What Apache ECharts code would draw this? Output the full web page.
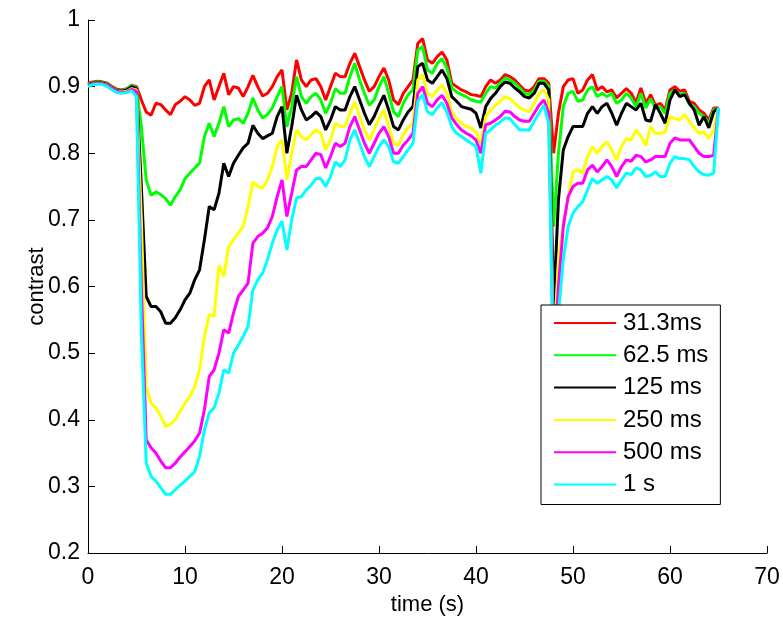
<!DOCTYPE html>
<html>
<head>
<meta charset="utf-8">
<script src="https://cdn.jsdelivr.net/npm/echarts@6/dist/echarts.min.js"></script>
<style>
html,body{margin:0;padding:0;background:#fff;}
#chart{width:783px;height:618px;}
</style>
</head>
<body>
<div id="chart"></div>
<script>
// time grid: 0 to 65 s, 0.5 s steps
var time = [];
for (var i = 0; i <= 130; i++) time.push(i * 0.5);

var seriesNames = ['31.3ms', '62.5 ms', '125 ms', '250 ms', '500 ms', '1 s'];
var seriesColors = ['#ff0000', '#00ff00', '#000000', '#ffff00', '#ff00ff', '#00ffff'];

var red = [
0.905,0.907,0.908,0.907,0.905,0.900,0.896,0.895,0.897,0.902,
0.900,0.880,0.862,0.857,0.875,0.873,0.865,0.858,0.873,0.878,
0.885,0.880,0.872,0.875,0.900,0.910,0.880,0.900,0.920,0.888,
0.900,0.898,0.885,0.900,0.917,0.900,0.886,0.890,0.900,0.915,
0.925,0.865,0.890,0.940,0.910,0.900,0.910,0.912,0.900,0.880,
0.900,0.920,0.915,0.915,0.935,0.950,0.930,0.910,0.893,0.900,
0.915,0.928,0.910,0.880,0.873,0.890,0.900,0.910,0.965,0.972,
0.940,0.935,0.945,0.952,0.940,0.905,0.900,0.895,0.892,0.888,
0.887,0.885,0.900,0.910,0.905,0.910,0.918,0.915,0.910,0.902,
0.895,0.893,0.900,0.912,0.912,0.905,0.800,0.860,0.900,0.910,
0.912,0.890,0.895,0.910,0.918,0.895,0.900,0.892,0.895,0.883,
0.890,0.897,0.890,0.876,0.898,0.875,0.888,0.872,0.875,0.865,
0.895,0.900,0.893,0.895,0.878,0.875,0.865,0.860,0.850,0.868,
0.868];

var green = [
0.904,0.906,0.907,0.906,0.904,0.899,0.895,0.894,0.896,0.902,
0.898,0.840,0.760,0.737,0.742,0.738,0.732,0.722,0.735,0.745,
0.762,0.770,0.778,0.785,0.825,0.845,0.825,0.845,0.870,0.840,
0.850,0.852,0.845,0.860,0.883,0.865,0.853,0.858,0.868,0.885,
0.900,0.840,0.870,0.915,0.885,0.875,0.885,0.890,0.880,0.860,
0.875,0.897,0.890,0.890,0.915,0.935,0.910,0.890,0.872,0.880,
0.900,0.915,0.890,0.862,0.855,0.875,0.888,0.895,0.955,0.960,
0.925,0.920,0.935,0.942,0.928,0.898,0.892,0.888,0.885,0.880,
0.878,0.877,0.890,0.900,0.898,0.905,0.913,0.910,0.905,0.898,
0.890,0.888,0.895,0.908,0.908,0.900,0.690,0.800,0.870,0.890,
0.893,0.878,0.880,0.895,0.900,0.885,0.890,0.885,0.890,0.875,
0.880,0.890,0.883,0.870,0.890,0.868,0.882,0.868,0.870,0.860,
0.890,0.895,0.888,0.890,0.873,0.870,0.860,0.855,0.845,0.865,
0.868];

var black = [
0.903,0.905,0.906,0.905,0.903,0.898,0.894,0.893,0.895,0.900,
0.897,0.750,0.585,0.570,0.570,0.562,0.545,0.545,0.553,0.565,
0.580,0.590,0.610,0.625,0.670,0.720,0.715,0.740,0.785,0.765,
0.785,0.797,0.808,0.815,0.842,0.830,0.822,0.826,0.830,0.855,
0.870,0.800,0.840,0.887,0.865,0.850,0.855,0.862,0.855,0.835,
0.850,0.870,0.865,0.865,0.885,0.900,0.880,0.860,0.843,0.855,
0.872,0.887,0.865,0.840,0.835,0.850,0.862,0.870,0.930,0.935,
0.910,0.905,0.915,0.925,0.912,0.885,0.878,0.870,0.868,0.866,
0.860,0.838,0.870,0.882,0.890,0.900,0.907,0.905,0.898,0.892,
0.885,0.883,0.890,0.905,0.905,0.895,0.570,0.730,0.805,0.825,
0.840,0.840,0.840,0.860,0.870,0.860,0.870,0.875,0.860,0.842,
0.860,0.875,0.870,0.865,0.875,0.850,0.848,0.873,0.860,0.845,
0.880,0.895,0.885,0.888,0.875,0.865,0.842,0.855,0.838,0.862,
0.868];

var yellow = [
0.902,0.904,0.905,0.904,0.902,0.897,0.893,0.892,0.893,0.897,
0.895,0.700,0.450,0.425,0.418,0.405,0.390,0.393,0.400,0.413,
0.425,0.435,0.450,0.475,0.525,0.558,0.555,0.632,0.615,0.660,
0.670,0.680,0.690,0.720,0.757,0.750,0.748,0.760,0.780,0.810,
0.820,0.760,0.800,0.835,0.825,0.820,0.828,0.835,0.830,0.805,
0.820,0.845,0.840,0.840,0.860,0.877,0.855,0.835,0.820,0.835,
0.852,0.865,0.840,0.815,0.812,0.828,0.838,0.845,0.910,0.918,
0.890,0.885,0.895,0.902,0.890,0.862,0.852,0.845,0.840,0.838,
0.832,0.815,0.855,0.865,0.872,0.878,0.885,0.882,0.875,0.868,
0.865,0.862,0.875,0.890,0.895,0.880,0.500,0.640,0.695,0.735,
0.772,0.775,0.770,0.795,0.810,0.800,0.810,0.817,0.805,0.790,
0.810,0.822,0.820,0.835,0.825,0.812,0.840,0.830,0.830,0.832,
0.855,0.852,0.850,0.858,0.848,0.838,0.830,0.832,0.822,0.835,
0.868];

var magenta = [
0.902,0.904,0.905,0.904,0.902,0.897,0.893,0.891,0.892,0.896,
0.893,0.600,0.370,0.358,0.350,0.338,0.328,0.328,0.335,0.344,
0.352,0.360,0.368,0.380,0.415,0.465,0.475,0.500,0.535,0.530,
0.560,0.585,0.595,0.605,0.665,0.675,0.680,0.688,0.705,0.735,
0.760,0.705,0.740,0.775,0.780,0.780,0.790,0.800,0.798,0.778,
0.795,0.815,0.810,0.815,0.840,0.855,0.835,0.815,0.800,0.815,
0.830,0.840,0.825,0.800,0.800,0.812,0.820,0.830,0.890,0.900,
0.875,0.870,0.880,0.887,0.875,0.853,0.843,0.835,0.830,0.826,
0.820,0.800,0.843,0.845,0.850,0.855,0.863,0.862,0.855,0.850,
0.848,0.848,0.860,0.872,0.880,0.860,0.480,0.600,0.690,0.735,
0.750,0.755,0.755,0.775,0.782,0.772,0.780,0.790,0.780,0.765,
0.780,0.790,0.788,0.797,0.795,0.787,0.790,0.795,0.795,0.795,
0.815,0.823,0.820,0.820,0.820,0.810,0.800,0.795,0.795,0.797,
0.868];

var cyan = [
0.900,0.903,0.904,0.903,0.900,0.895,0.891,0.890,0.891,0.894,
0.885,0.530,0.335,0.315,0.308,0.298,0.288,0.288,0.295,0.302,
0.308,0.315,0.322,0.345,0.385,0.410,0.418,0.440,0.475,0.470,
0.500,0.512,0.525,0.540,0.595,0.610,0.620,0.640,0.665,0.685,
0.698,0.655,0.700,0.733,0.735,0.745,0.752,0.762,0.762,0.750,
0.765,0.787,0.780,0.790,0.820,0.835,0.815,0.795,0.780,0.795,
0.810,0.820,0.810,0.787,0.785,0.795,0.805,0.815,0.878,0.888,
0.862,0.858,0.868,0.876,0.862,0.840,0.830,0.825,0.820,0.815,
0.810,0.770,0.830,0.835,0.842,0.847,0.853,0.852,0.843,0.835,
0.835,0.835,0.848,0.860,0.872,0.845,0.450,0.560,0.640,0.690,
0.710,0.720,0.727,0.745,0.762,0.755,0.760,0.765,0.760,0.748,
0.760,0.770,0.768,0.778,0.775,0.765,0.767,0.772,0.765,0.765,
0.785,0.795,0.792,0.792,0.790,0.780,0.772,0.768,0.767,0.770,
0.868];

var xTicks = [0, 10, 20, 30, 40, 50, 60, 70];
var yTicks = [0.2, 0.3, 0.4, 0.5, 0.6, 0.7, 0.8, 0.9, 1];

var allValues = [red, green, black, yellow, magenta, cyan];
var FONT = '"Liberation Sans", Arial, sans-serif';

function pairs(vals) {
  return vals.map(function (v, i) { return [time[i], v]; });
}

var series = allValues.map(function (vals, k) {
  return {
    name: seriesNames[k],
    type: 'line',
    data: pairs(vals),
    symbol: 'none',
    showSymbol: false,
    smooth: false,
    lineStyle: { color: seriesColors[k], width: 3 },
    itemStyle: { color: seriesColors[k] },
    emphasis: { disabled: true },
    z: 2
  };
});

var chart = echarts.init(document.getElementById('chart'), null, { renderer: 'canvas' });
chart.setOption({
  animation: false,
  backgroundColor: '#ffffff',
  textStyle: { fontFamily: FONT },
  grid: { left: 88, right: 16, top: 20, bottom: 65, containLabel: false, outerBoundsMode: 'none' },
  xAxis: {
    type: 'value',
    min: xTicks[0], max: xTicks[xTicks.length - 1], interval: 10,
    name: 'time (s)', nameLocation: 'middle', nameGap: 41, nameMoveOverlap: false,
    nameTextStyle: { fontSize: 22, color: '#000', fontFamily: FONT },
    axisLine: { show: true, onZero: false, lineStyle: { color: '#000', width: 1 } },
    axisTick: { show: true, inside: true, length: 7, lineStyle: { color: '#000' } },
    axisLabel: { fontSize: 23, color: '#000', margin: 13, fontFamily: FONT },
    splitLine: { show: false }
  },
  yAxis: {
    type: 'value',
    min: yTicks[0], max: yTicks[yTicks.length - 1], interval: 0.1,
    name: 'contrast', nameLocation: 'middle', nameGap: 40, nameRotate: 90, nameMoveOverlap: false,
    nameTextStyle: { fontSize: 22, color: '#000', fontFamily: FONT },
    axisLine: { show: true, onZero: false, lineStyle: { color: '#000', width: 1 } },
    axisTick: { show: true, inside: true, length: 7, lineStyle: { color: '#000' } },
    axisLabel: {
      fontSize: 23, color: '#000', margin: 8, fontFamily: FONT,
      formatter: function (v) { return String(Math.round(v * 10) / 10); }
    },
    splitLine: { show: false }
  },
  legend: {
    orient: 'vertical',
    left: 541, top: 305,
    data: seriesNames,
    backgroundColor: '#ffffff',
    borderColor: '#000',
    borderWidth: 1,
    padding: [6, 12, 8, 13],
    itemWidth: 62,
    itemHeight: 14,
    itemGap: 8.3,
    icon: 'path://M0,6 L62,6 L62,8 L0,8 Z',
    textStyle: { fontSize: 24, color: '#000', fontFamily: FONT, lineHeight: 24, padding: [0, 0, 0, 2] },
    selectedMode: false,
    z: 10
  },
  series: series
});
</script>
</body>
</html>
